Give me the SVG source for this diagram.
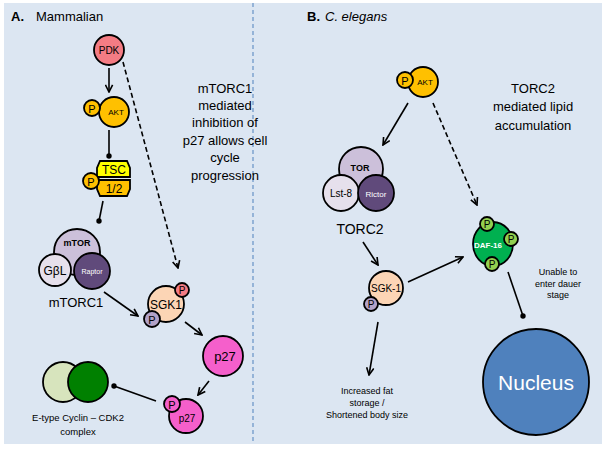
<svg xmlns="http://www.w3.org/2000/svg" width="606" height="454" viewBox="0 0 606 454">
<defs>
<marker id="arr" viewBox="0 0 10 10" refX="9" refY="5" markerWidth="9" markerHeight="9" markerUnits="userSpaceOnUse" orient="auto">
<path d="M1,1 L9,5 L1,9" fill="none" stroke="#000" stroke-width="1.8"/>
</marker>
<marker id="dot" viewBox="0 0 10 10" refX="5" refY="5" markerWidth="6" markerHeight="6" markerUnits="userSpaceOnUse">
<circle cx="5" cy="5" r="4.5" fill="#000"/>
</marker>
<style>
text{font-family:"Liberation Sans",Arial,sans-serif;fill:#000}
.n{stroke:#000;stroke-width:1.8}
.c{stroke:#000;stroke-width:1.6;fill:none}
.d{stroke-dasharray:5,3}
.a{marker-end:url(#arr)}
.o{marker-end:url(#dot)}
.m{text-anchor:middle}
</style>
</defs>
<rect x="0" y="0" width="606" height="454" fill="#fff"/>
<rect x="4" y="3" width="598" height="441" fill="#dce6f2"/>
<line x1="253" y1="3" x2="253" y2="444" stroke="#4f81bd" stroke-width="1" stroke-dasharray="4,3"/>

<text x="11" y="21" font-size="13" font-weight="bold">A.</text>
<text x="36" y="21" font-size="13">Mammalian</text>
<text x="307" y="21" font-size="13" font-weight="bold">B.</text>
<text x="325" y="21" font-size="13" font-style="italic">C. elegans</text>

<g font-size="13" class="m">
<text x="225" y="93" class="m">mTORC1</text>
<text x="225" y="110" class="m">mediated</text>
<text x="225" y="127" class="m">inhibition of</text>
<text x="225" y="145" class="m">p27 allows cell</text>
<text x="225" y="162" class="m">cycle</text>
<text x="225" y="180" class="m">progression</text>
</g>
<g font-size="13">
<text x="533" y="93" class="m">TORC2</text>
<text x="533" y="111" class="m">mediated lipid</text>
<text x="533" y="130" class="m">accumulation</text>
</g>

<g id="connectors">
<line x1="109" y1="68" x2="109" y2="92" class="c a"/>
<line x1="109" y1="130" x2="109" y2="156" class="c o"/>
<line x1="103" y1="201" x2="99" y2="221" class="c o"/>
<line x1="123" y1="62" x2="178" y2="268" class="c d a"/>
<line x1="104" y1="292" x2="138" y2="316" class="c a"/>
<line x1="185" y1="322" x2="202" y2="335" class="c a"/>
<line x1="209" y1="381" x2="198" y2="395" class="c a"/>
<line x1="156" y1="401" x2="114" y2="386" class="c o"/>
<line x1="408" y1="103" x2="383" y2="145" class="c a"/>
<line x1="433" y1="103" x2="477" y2="205" class="c d a"/>
<line x1="363" y1="242" x2="378" y2="265" class="c a"/>
<line x1="408" y1="282" x2="463" y2="257" class="c a"/>
<line x1="378" y1="322" x2="369" y2="375" class="c a"/>
<line x1="508" y1="272" x2="523" y2="316" class="c o"/>
</g>

<g id="pdk">
<circle cx="109" cy="50" r="15" fill="#f47c84" class="n"/>
<text x="109" y="54" font-size="10" class="m">PDK</text>
</g>

<g id="akt-a">
<circle cx="114" cy="112" r="15" fill="#ffc000" class="n"/>
<circle cx="92" cy="108" r="8" fill="#ffc000" class="n"/>
<text x="92" y="112.5" font-size="11" class="m">P</text>
<text x="116" y="115" font-size="8" class="m">AKT</text>
</g>

<g id="tsc">
<polygon points="100,161 127,161 130,168 130,177 97,177 97,168" fill="#ffff00" class="n" stroke-width="1.5"/>
<polygon points="97,180 130,180 130,189 127,196 100,196 97,189" fill="#ffc000" class="n" stroke-width="1.5"/>
<text x="114" y="174" font-size="12" class="m">TSC</text>
<text x="114" y="193" font-size="12" class="m">1/2</text>
<circle cx="91" cy="181" r="8" fill="#ffc000" class="n"/>
<text x="91" y="185.5" font-size="11" class="m">P</text>
</g>

<g id="mtorc1">
<circle cx="77" cy="252" r="23" fill="#ccc0da" class="n"/>
<circle cx="55" cy="270" r="16" fill="#e6e0ec" class="n"/>
<circle cx="92" cy="271" r="18" fill="#604a7b" class="n"/>
<text x="77" y="246" font-size="9" font-weight="bold" class="m">mTOR</text>
<text x="55" y="275" font-size="12" class="m">GβL</text>
<text x="92" y="274" font-size="7" class="m" style="fill:#fff">Raptor</text>
<text x="76" y="307" font-size="13" class="m">mTORC1</text>
</g>

<g id="sgk1">
<circle cx="166" cy="304" r="18" fill="#fcd5b5" class="n"/>
<text x="166" y="308.5" font-size="12" class="m">SGK1</text>
<circle cx="182" cy="290" r="7" fill="#f47c84" class="n"/>
<text x="182" y="294" font-size="10" class="m">P</text>
<circle cx="152" cy="319" r="8" fill="#b2a2c7" class="n"/>
<text x="152" y="323.5" font-size="11" class="m">P</text>
</g>

<g id="p27">
<circle cx="223" cy="356" r="20" fill="#f55fcb" class="n"/>
<text x="225" y="361" font-size="13" class="m">p27</text>
</g>

<g id="p27p">
<circle cx="186" cy="416" r="17" fill="#f55fcb" class="n"/>
<text x="187" y="422" font-size="10" class="m">p27</text>
<circle cx="172" cy="404" r="8" fill="#f55fcb" class="n"/>
<text x="172" y="408.5" font-size="11" class="m">P</text>
</g>

<g id="cyclin">
<circle cx="63" cy="382" r="20" fill="#d7e4bd" class="n"/>
<circle cx="88" cy="382" r="20" fill="#008000" class="n"/>
<text x="78" y="421" font-size="9.5" class="m">E-type Cyclin – CDK2</text>
<text x="78" y="435" font-size="9.5" class="m">complex</text>
</g>

<g id="akt-b">
<circle cx="423" cy="82" r="15" fill="#ffc000" class="n"/>
<circle cx="405" cy="80" r="8" fill="#ffc000" class="n"/>
<text x="405" y="84.5" font-size="11" class="m">P</text>
<text x="425" y="85" font-size="8" class="m">AKT</text>
</g>

<g id="torc2">
<circle cx="361" cy="169" r="22" fill="#ccc0da" class="n"/>
<circle cx="341" cy="193" r="18" fill="#e6e0ec" class="n"/>
<circle cx="376" cy="193" r="18" fill="#604a7b" class="n"/>
<text x="360" y="171" font-size="9" font-weight="bold" class="m">TOR</text>
<text x="341" y="197" font-size="10" class="m">Lst-8</text>
<text x="376" y="196.5" font-size="8" class="m" style="fill:#fff">Rictor</text>
<text x="360" y="234" font-size="14" class="m">TORC2</text>
</g>

<g id="sgk-1">
<circle cx="386" cy="288" r="17" fill="#fcd5b5" class="n"/>
<text x="386" y="292" font-size="10" class="m">SGK-1</text>
<circle cx="371" cy="304" r="7" fill="#b2a2c7" class="n"/>
<text x="371" y="308" font-size="10" class="m">P</text>
<text x="367" y="394" font-size="9" class="m">Increased fat</text>
<text x="367" y="406" font-size="9" class="m">storage /</text>
<text x="367" y="418" font-size="9" class="m">Shortened body size</text>
</g>

<g id="daf16">
<ellipse cx="493" cy="244" rx="20" ry="22" fill="#00b050" class="n"/>
<text x="488" y="248" font-size="8" font-weight="bold" class="m" style="fill:#fff">DAF-16</text>
<circle cx="487" cy="224" r="7" fill="#92d050" class="n"/>
<text x="487" y="228" font-size="10" class="m">P</text>
<circle cx="511" cy="239" r="7" fill="#92d050" class="n"/>
<text x="511" y="243" font-size="10" class="m">P</text>
<circle cx="492" cy="264" r="7" fill="#92d050" class="n"/>
<text x="492" y="268" font-size="10" class="m">P</text>
<text x="558" y="275" font-size="9" class="m">Unable to</text>
<text x="558" y="287" font-size="9" class="m">enter dauer</text>
<text x="558" y="298" font-size="9" class="m">stage</text>
</g>

<g id="nucleus">
<circle cx="536" cy="382" r="53" fill="#4f81bd" class="n"/>
<text x="536" y="390" font-size="21" class="m" style="fill:#fff">Nucleus</text>
</g>
</svg>
